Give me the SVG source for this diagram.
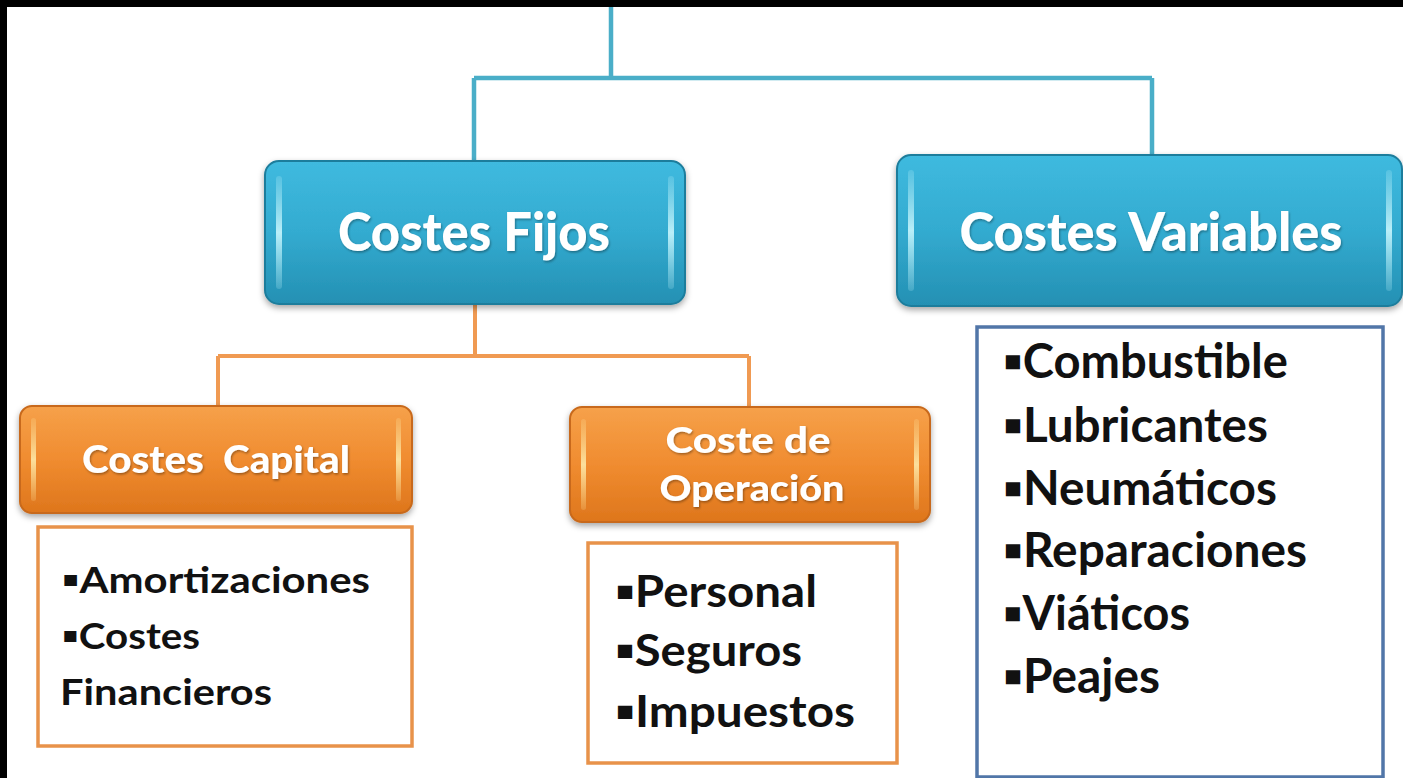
<svg xmlns="http://www.w3.org/2000/svg" width="1403" height="778" viewBox="0 0 1403 778">
  <defs>
    <linearGradient id="teal" x1="0" y1="0" x2="0" y2="1">
      <stop offset="0" stop-color="#3fbadf"/>
      <stop offset="0.5" stop-color="#33abd0"/>
      <stop offset="1" stop-color="#2490b3"/>
    </linearGradient>
    <linearGradient id="orange" x1="0" y1="0" x2="0" y2="1">
      <stop offset="0" stop-color="#f6a14a"/>
      <stop offset="0.5" stop-color="#f08c30"/>
      <stop offset="1" stop-color="#de761c"/>
    </linearGradient>
    <linearGradient id="tealHi" x1="0" y1="0" x2="0" y2="1">
      <stop offset="0" stop-color="#bff3fb" stop-opacity="0.2"/>
      <stop offset="0.5" stop-color="#c8f6fd" stop-opacity="0.9"/>
      <stop offset="1" stop-color="#bff3fb" stop-opacity="0.2"/>
    </linearGradient>
    <linearGradient id="orangeHi" x1="0" y1="0" x2="0" y2="1">
      <stop offset="0" stop-color="#fde6a0" stop-opacity="0.2"/>
      <stop offset="0.5" stop-color="#fde9a8" stop-opacity="0.9"/>
      <stop offset="1" stop-color="#fde6a0" stop-opacity="0.2"/>
    </linearGradient>
    <filter id="shadow" x="-10%" y="-10%" width="120%" height="130%">
      <feDropShadow dx="0" dy="3" stdDeviation="3" flood-color="#000" flood-opacity="0.35"/>
    </filter>
    <filter id="tshadow" x="-5%" y="-10%" width="110%" height="130%">
      <feDropShadow dx="1" dy="1.5" stdDeviation="1" flood-color="#000" flood-opacity="0.35"/>
    </filter>
  </defs>
  <style>
    .teal-box { fill: url(#teal); stroke: #1d7d9c; stroke-width: 2; }
    .orange-box { fill: url(#orange); stroke: #c8691a; stroke-width: 2; }
    .thi { fill: url(#tealHi); }
    .ohi { fill: url(#orangeHi); }
    .head { font-family: Lato, "Open Sans", "Liberation Sans", sans-serif; font-weight: 900; fill: #ffffff; text-anchor: middle; }
    .item { font-family: Lato, "Open Sans", "Liberation Sans", sans-serif; font-weight: 700; fill: #111111; }
    .list-o { fill: #ffffff; stroke: #e8924a; stroke-width: 3.5; }
    .list-b { fill: #ffffff; stroke: #5176a8; stroke-width: 3.5; }
    .c-teal { fill: none; stroke: #4aaec8; stroke-width: 4.5; }
    .c-orange { fill: none; stroke: #f09a52; stroke-width: 4; }
  </style>

  <rect x="0" y="0" width="1403" height="778" fill="#ffffff"/>
  <rect x="0" y="0" width="1403" height="7" fill="#000000"/>
  <rect x="0" y="0" width="7" height="778" fill="#000000"/>

  <g id="connectors">
    <path class="c-teal" d="M611 7 V78 M474 78 H1152 M474 78 V162 M1152 78 V156"/>
    <path class="c-orange" d="M475 305 V356 M218 356 H749 M218 356 V407 M749 356 V408"/>
  </g>

  <g id="costes-fijos">
    <rect class="teal-box" x="265" y="161" width="420" height="143" rx="14" filter="url(#shadow)"/>
    <rect class="thi" x="276" y="176" width="6" height="113" rx="3"/>
    <rect class="thi" x="668" y="176" width="6" height="113" rx="3"/>
    <text class="head" x="474" y="251" font-size="53" textLength="272" lengthAdjust="spacingAndGlyphs" filter="url(#tshadow)">Costes Fijos</text>
  </g>

  <g id="costes-variables">
    <rect class="teal-box" x="897" y="155" width="505" height="151" rx="14" filter="url(#shadow)"/>
    <rect class="thi" x="908" y="170" width="6" height="121" rx="3"/>
    <rect class="thi" x="1386" y="170" width="6" height="121" rx="3"/>
    <text class="head" x="1151" y="251" font-size="53" textLength="383" lengthAdjust="spacingAndGlyphs" filter="url(#tshadow)">Costes Variables</text>
  </g>

  <g id="costes-capital">
    <rect class="orange-box" x="20" y="406" width="392" height="107" rx="12" filter="url(#shadow)"/>
    <rect class="ohi" x="31" y="418" width="5" height="83" rx="2.5"/>
    <rect class="ohi" x="396" y="418" width="5" height="83" rx="2.5"/>
    <text class="head" x="216" y="473" font-size="38" textLength="268" lengthAdjust="spacingAndGlyphs" xml:space="preserve" filter="url(#tshadow)">Costes  Capital</text>
  </g>

  <g id="coste-operacion">
    <rect class="orange-box" x="570" y="407" width="360" height="115" rx="12" filter="url(#shadow)"/>
    <rect class="ohi" x="581" y="419" width="5" height="91" rx="2.5"/>
    <rect class="ohi" x="914" y="419" width="5" height="91" rx="2.5"/>
    <text class="head" x="748" y="453" font-size="36" textLength="165" lengthAdjust="spacingAndGlyphs" filter="url(#tshadow)">Coste de</text>
    <text class="head" x="752" y="501" font-size="36" textLength="185" lengthAdjust="spacingAndGlyphs" filter="url(#tshadow)">Operación</text>
  </g>

  <g id="lista-capital">
    <rect class="list-o" x="38" y="527" width="374" height="219"/>
    <text class="item" x="62" y="593" font-size="37" textLength="308" lengthAdjust="spacingAndGlyphs">▪Amortizaciones</text>
    <text class="item" x="62" y="649" font-size="37" textLength="138" lengthAdjust="spacingAndGlyphs">▪Costes</text>
    <text class="item" x="60" y="705" font-size="37" textLength="212" lengthAdjust="spacingAndGlyphs">Financieros</text>
  </g>

  <g id="lista-operacion">
    <rect class="list-o" x="588" y="543" width="309" height="220"/>
    <text class="item" x="615" y="607" font-size="44" textLength="202" lengthAdjust="spacingAndGlyphs">▪Personal</text>
    <text class="item" x="615" y="666" font-size="44" textLength="187" lengthAdjust="spacingAndGlyphs">▪Seguros</text>
    <text class="item" x="615" y="727" font-size="44" textLength="240" lengthAdjust="spacingAndGlyphs">▪Impuestos</text>
  </g>

  <g id="lista-variables">
    <rect class="list-b" x="977" y="327" width="406" height="450"/>
    <text class="item" x="1003" y="378" font-size="47" textLength="285" lengthAdjust="spacingAndGlyphs">▪Combustible</text>
    <text class="item" x="1003" y="442" font-size="47" textLength="265" lengthAdjust="spacingAndGlyphs">▪Lubricantes</text>
    <text class="item" x="1003" y="505" font-size="47" textLength="274" lengthAdjust="spacingAndGlyphs">▪Neumáticos</text>
    <text class="item" x="1003" y="567" font-size="47" textLength="304" lengthAdjust="spacingAndGlyphs">▪Reparaciones</text>
    <text class="item" x="1003" y="630" font-size="47" textLength="187" lengthAdjust="spacingAndGlyphs">▪Viáticos</text>
    <text class="item" x="1003" y="693" font-size="47" textLength="157" lengthAdjust="spacingAndGlyphs">▪Peajes</text>
  </g>
</svg>
